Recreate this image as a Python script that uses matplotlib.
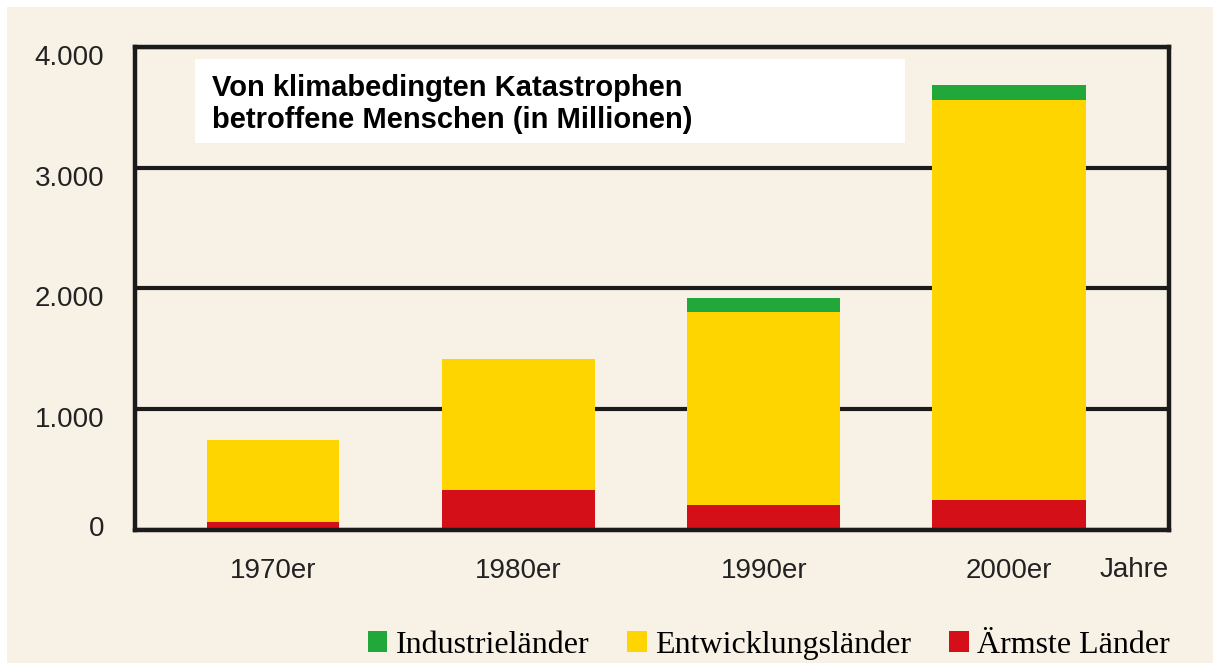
import matplotlib
matplotlib.use("Agg")
import matplotlib.pyplot as plt
from matplotlib.patches import Rectangle, Patch
from matplotlib.transforms import ScaledTranslation
import numpy as np

# ---- data ----
decades = ["1970er", "1980er", "1990er", "2000er"]
aermste = [70, 330, 205, 245]
entwicklung = [675, 1085, 1597, 3312]
industrie = [0, 0, 116, 127]
y_ticks = [0, 1000, 2000, 3000, 4000]
y_ticklabels = ["0", "1.000", "2.000", "3.000", "4.000"]
series_names = ["Industrieländer", "Entwicklungsländer", "Ärmste Länder"]
title = "Von klimabedingten Katastrophen\nbetroffene Menschen (in Millionen)"

# ---- style ----
C_GREEN = "#22a83a"
C_YELLOW = "#ffd500"
C_RED = "#d50f18"
BG = "#f8f1e6"
LINE = "#1b1b1b"
W, H = 1213, 663

fig = plt.figure(figsize=(W / 100, H / 100), dpi=100, facecolor="white")
# beige panel (leaves a thin white border at top/left)
fig.patches.append(Rectangle((7 / W, 0), 1, 1 - 7 / H, transform=fig.transFigure,
                             facecolor=BG, edgecolor="none", zorder=-10))

ax = fig.add_axes([135 / W, 1 - 530 / H, (1169 - 135) / W, (530 - 46.7) / H])
ax.patch.set_alpha(0)

x = np.arange(len(decades))
widths = [0.54, 0.625, 0.625, 0.625]
bottom2 = np.array(aermste)
bottom3 = bottom2 + np.array(entwicklung)
ax.bar(x, aermste, width=widths, color=C_RED, zorder=2, linewidth=0)
ax.bar(x, entwicklung, width=widths, bottom=bottom2, color=C_YELLOW, zorder=2, linewidth=0)
ax.bar(x, industrie, width=widths, bottom=bottom3, color=C_GREEN, zorder=2, linewidth=0)

ax.set_xlim(-0.563, 3.652)
ax.set_ylim(0, 4000)
ax.set_yticks(y_ticks)
ax.set_yticklabels(y_ticklabels)
ax.set_xticks(x)
ax.set_xticklabels(decades)
ax.tick_params(axis="both", length=0, labelsize=20, labelcolor="#222222")
ax.tick_params(axis="y", pad=22)
ax.tick_params(axis="x", pad=20)
for lab in ax.get_xticklabels() + ax.get_yticklabels():
    lab.set_fontfamily("Liberation Sans")
# y labels sit slightly below their grid lines in the original (the "0" slightly above)
for lab, val in zip(ax.get_yticklabels(), y_ticks):
    dy = 4 / 100 if val == 0 else -8 / 100
    lab.set_transform(lab.get_transform() + ScaledTranslation(0, dy, fig.dpi_scale_trans))

ax.yaxis.grid(True, color=LINE, linewidth=3.0, zorder=1)
ax.xaxis.grid(False)
ax.set_axisbelow(True)
for s in ax.spines.values():
    s.set_color(LINE)
    s.set_linewidth(3.2)
    s.set_zorder(5)

fig.text(1134 / W, 1 - 570 / H, "Jahre", fontsize=20, family="Liberation Sans",
         color="#222222", ha="center", va="center")

# title box
ax.add_patch(Rectangle((60 / 1034, (530 - 143) / 483.3), (905 - 195) / 1034, (143 - 59) / 483.3,
                       transform=ax.transAxes, facecolor="white", edgecolor="none", zorder=3))
ax.text(77 / 1034, (530 - 104) / 483.3, title, transform=ax.transAxes, fontsize=21,
        fontweight="bold", family="Liberation Sans", ha="left", va="center",
        linespacing=1.15, zorder=4, color="black")

handles = [Patch(facecolor=C_GREEN), Patch(facecolor=C_YELLOW), Patch(facecolor=C_RED)]
fig.legend(handles, series_names, loc="center right", bbox_to_anchor=(1170 / W, 1 - 645 / H),
           ncol=3, frameon=False, prop={"family": "Liberation Serif", "size": 23},
           handlelength=0.62, handleheight=0.62, handletextpad=0.25, columnspacing=1.2,
           borderaxespad=0, borderpad=0)

fig.savefig("out.png", dpi=100, facecolor="white")
